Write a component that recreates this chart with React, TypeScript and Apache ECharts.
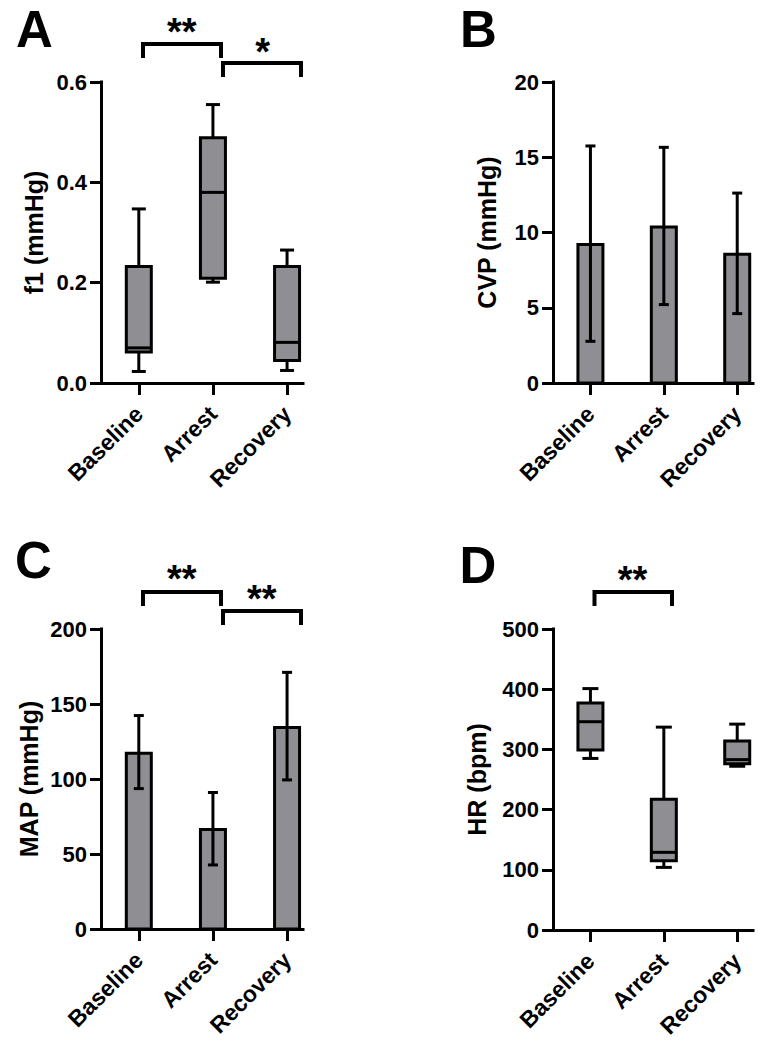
import React, { useEffect, useRef } from "react";
import * as echarts from "echarts";

// ---- data ----
const categories = ["Baseline", "Arrest", "Recovery"];

// box plots: [min, q1, median, q3, max]
const f1Box = [
  [0.023, 0.062, 0.07, 0.232, 0.347],
  [0.201, 0.209, 0.38, 0.489, 0.555],
  [0.025, 0.045, 0.081, 0.232, 0.265],
];
const hrBox = [
  [285, 299, 346, 377, 401],
  [104, 115, 129, 217, 337],
  [272, 276, 283, 314, 342],
];

// bar + error bars
const cvpMean = [9.2, 10.37, 8.55];
const cvpLow = [2.77, 5.21, 4.61];
const cvpHigh = [15.75, 15.66, 12.62];

const mapMean = [117.2, 66.3, 134.3];
const mapLow = [93.6, 42.7, 99.4];
const mapHigh = [142.3, 91.0, 171.1];

const FONT = "'Liberation Sans', Arial, Helvetica, sans-serif";
const FILL = "#8e8e93";

const grids = [
  { left: 101, top: 82, width: 202, height: 301 },
  { left: 553, top: 82, width: 200, height: 301 },
  { left: 101, top: 629, width: 202, height: 300 },
  { left: 553, top: 629, width: 200, height: 301 },
];

function xAxisCfg(i: number) {
  return {
    gridIndex: i,
    type: "value",
    min: -0.51,
    max: 2.215,
    splitLine: { show: false },
    axisLine: { show: true, onZero: false, lineStyle: { color: "#000", width: 3, cap: "square" } },
    axisTick: { show: true, customValues: [0, 1, 2], length: 12, lineStyle: { color: "#000", width: 3 } },
    axisLabel: {
      customValues: [0, 1, 2],
      formatter: (v: number) => categories[Math.round(v)] ?? "",
      rotate: 45,
      margin: 27,
      fontSize: 23,
      fontWeight: "bold",
      color: "#000",
      fontFamily: FONT,
    },
  };
}

function yAxisCfg(i: number, min: number, max: number, interval: number, name: string, gap: number, dec: number) {
  return {
    gridIndex: i,
    type: "value",
    min,
    max,
    interval,
    name,
    nameLocation: "middle",
    nameGap: gap,
    nameTextStyle: { fontSize: 25, fontWeight: "bold", color: "#000", fontFamily: FONT },
    splitLine: { show: false },
    axisLine: { show: true, onZero: false, lineStyle: { color: "#000", width: 3, cap: "square" } },
    axisTick: { show: true, length: 11, lineStyle: { color: "#000", width: 3 } },
    axisLabel: {
      margin: 14,
      fontSize: 22,
      fontWeight: "bold",
      color: "#000",
      fontFamily: FONT,
      formatter: (v: number) => v.toFixed(dec),
    },
  };
}

function boxSeries(i: number, box: number[][], capHalf: number) {
  return {
    type: "custom",
    xAxisIndex: i,
    yAxisIndex: i,
    data: box.map((b, k) => [k, ...b]),
    encode: { x: 0, y: [1, 2, 3, 4, 5] },
    renderItem: (params: any, api: any) => {
      const x = api.value(0);
      const c = (v: number) => api.coord([x, v]);
      const pMin = c(api.value(1));
      const pQ1 = c(api.value(2));
      const pMed = c(api.value(3));
      const pQ3 = c(api.value(4));
      const pMax = c(api.value(5));
      const cx = pMin[0];
      const hw = 12.5;
      const ls = { stroke: "#000", lineWidth: 3 };
      return {
        type: "group",
        children: [
          { type: "line", shape: { x1: cx, y1: pMax[1], x2: cx, y2: pQ3[1] }, style: ls },
          { type: "line", shape: { x1: cx - capHalf, y1: pMax[1], x2: cx + capHalf, y2: pMax[1] }, style: ls },
          { type: "line", shape: { x1: cx, y1: pQ1[1], x2: cx, y2: pMin[1] }, style: ls },
          { type: "line", shape: { x1: cx - capHalf, y1: pMin[1], x2: cx + capHalf, y2: pMin[1] }, style: ls },
          {
            type: "rect",
            shape: { x: cx - hw, y: pQ3[1], width: hw * 2, height: pQ1[1] - pQ3[1] },
            style: { fill: FILL, stroke: "#000", lineWidth: 3 },
          },
          { type: "line", shape: { x1: cx - hw, y1: pMed[1], x2: cx + hw, y2: pMed[1] }, style: ls },
        ],
      };
    },
  };
}

function barSeries(i: number, mean: number[], low: number[], high: number[], capHalf: number) {
  return {
    type: "custom",
    xAxisIndex: i,
    yAxisIndex: i,
    data: mean.map((m, k) => [k, m, low[k], high[k]]),
    encode: { x: 0, y: [1, 2, 3] },
    renderItem: (params: any, api: any) => {
      const x = api.value(0);
      const c = (v: number) => api.coord([x, v]);
      const p0 = c(0);
      const pM = c(api.value(1));
      const pL = c(api.value(2));
      const pH = c(api.value(3));
      const cx = p0[0];
      const hw = 12.5;
      const ls = { stroke: "#000", lineWidth: 3 };
      return {
        type: "group",
        children: [
          {
            type: "rect",
            shape: { x: cx - hw, y: pM[1], width: hw * 2, height: p0[1] - pM[1] },
            style: { fill: FILL, stroke: "#000", lineWidth: 3 },
          },
          { type: "line", shape: { x1: cx, y1: pH[1], x2: cx, y2: pL[1] }, style: ls },
          { type: "line", shape: { x1: cx - capHalf, y1: pH[1], x2: cx + capHalf, y2: pH[1] }, style: ls },
          { type: "line", shape: { x1: cx - capHalf, y1: pL[1], x2: cx + capHalf, y2: pL[1] }, style: ls },
        ],
      };
    },
  };
}

function bracket(x1: number, x2: number, top: number, bottom: number) {
  return {
    type: "polyline",
    shape: { points: [[x1, bottom], [x1, top], [x2, top], [x2, bottom]] },
    style: { stroke: "#000", lineWidth: 4, fill: null, lineJoin: "miter", lineCap: "butt" },
    z: 10,
  };
}

function stars(text: string, x: number, y: number) {
  return {
    type: "text",
    x,
    y,
    style: { text, fontSize: 38, fontWeight: "bold", fontFamily: FONT, fill: "#000", textAlign: "center", textVerticalAlign: "middle" },
    z: 10,
  };
}

function letter(text: string, x: number, y: number) {
  return {
    type: "text",
    x,
    y,
    style: { text, fontSize: 51, fontWeight: "bold", fontFamily: FONT, fill: "#000", textAlign: "center", textVerticalAlign: "middle" },
    z: 10,
  };
}

export default function App() {
  const ref = useRef<HTMLDivElement>(null);
  useEffect(() => {
    if (!ref.current) return;
    const chart = echarts.init(ref.current, null, { renderer: "svg" });
    chart.setOption({
      animation: false,
      backgroundColor: "#fff",
      grid: grids,
      xAxis: [0, 1, 2, 3].map((i) => xAxisCfg(i)),
      yAxis: [
        yAxisCfg(0, 0, 0.6, 0.2, "f1 (mmHg)", 55, 1),
        yAxisCfg(1, 0, 20, 5, "CVP (mmHg)", 54, 0),
        yAxisCfg(2, 0, 200, 50, "MAP (mmHg)", 60, 0),
        yAxisCfg(3, 0, 500, 100, "HR (bpm)", 64, 0),
      ],
      series: [
        boxSeries(0, f1Box, 7),
        barSeries(1, cvpMean, cvpLow, cvpHigh, 5),
        barSeries(2, mapMean, mapLow, mapHigh, 5),
        boxSeries(3, hrBox, 8),
      ],
      graphic: [
        letter("A", 34.5, 29),
        letter("B", 478.5, 29),
        letter("C", 33.5, 560),
        letter("D", 478, 565),
        bracket(143, 221, 44, 58),
        bracket(223, 301, 63, 77),
        stars("**", 181.7, 32),
        stars("*", 262.7, 52),
        bracket(143, 221, 592, 606),
        bracket(223, 301, 611, 625),
        stars("**", 181.7, 579),
        stars("**", 261.7, 599),
        bracket(594.5, 672, 592, 606),
        stars("**", 632.5, 580),
      ],
    });
    return () => chart.dispose();
  }, []);
  return <div ref={ref} style={{ position: "absolute", left: 0, top: 0, width: 770, height: 1050, background: "#fff" }} />;
}
